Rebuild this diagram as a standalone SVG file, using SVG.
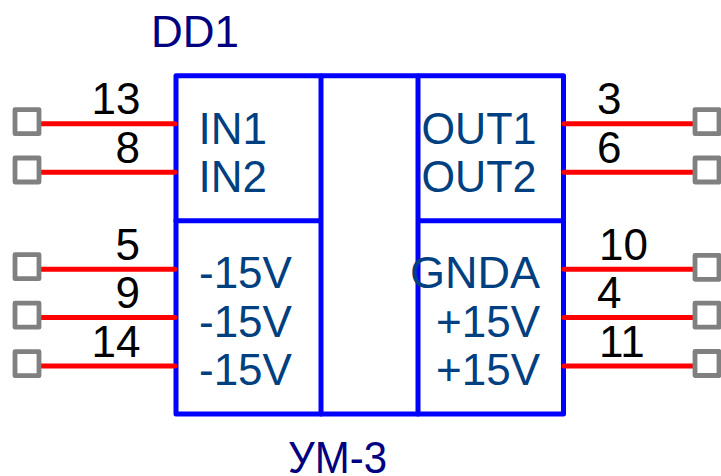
<svg xmlns="http://www.w3.org/2000/svg" width="721" height="476" viewBox="0 0 721 476">
<style>
.b{fill:none;stroke:#0000ff;stroke-width:5;stroke-linejoin:round;stroke-linecap:round}
.w{stroke:#ff0000;stroke-width:5;stroke-linecap:round}
.p{fill:#fff;stroke:#808080;stroke-width:4.800;stroke-linejoin:round}
text{font-family:"Liberation Sans",Arial,sans-serif;font-size:44px}
.k{fill:#000}
.n{fill:#004080}
.t{fill:#000080}
.e{text-anchor:end}
</style>
<rect width="721" height="476" fill="#fff"/>
<g id="body">
<rect class="b" x="176" y="75.800" width="387.500" height="338.200"/>
<path class="b" d="M321 76V414M418 76V414M176 220.700H321M418 220.700H563.500"/>
</g>
<g id="connectors">
<line class="w" x1="40" y1="123.700" x2="175" y2="123.700"/>
<line class="w" x1="40" y1="172.300" x2="175" y2="172.300"/>
<line class="w" x1="40" y1="269.300" x2="175" y2="269.300"/>
<line class="w" x1="40" y1="317.500" x2="175" y2="317.500"/>
<line class="w" x1="40" y1="366" x2="175" y2="366"/>
<line class="w" x1="564" y1="123.700" x2="694" y2="123.700"/>
<line class="w" x1="564" y1="172.300" x2="694" y2="172.300"/>
<line class="w" x1="564" y1="269.300" x2="694" y2="269.300"/>
<line class="w" x1="564" y1="317.500" x2="694" y2="317.500"/>
<line class="w" x1="564" y1="366" x2="694" y2="366"/>
</g>
<g id="pins-left">
<rect class="p" x="15" y="109.700" width="24" height="24"/>
<rect class="p" x="15" y="158" width="24" height="24"/>
<rect class="p" x="15" y="254.700" width="24" height="24"/>
<rect class="p" x="15" y="303.200" width="24" height="24"/>
<rect class="p" x="15" y="351.700" width="24" height="24"/>
</g>
<g id="pins-right">
<rect class="p" x="695" y="109.700" width="24" height="24"/>
<rect class="p" x="695" y="158" width="24" height="24"/>
<rect class="p" x="695" y="255.300" width="24" height="24"/>
<rect class="p" x="695" y="303.200" width="24" height="24"/>
<rect class="p" x="695" y="351.500" width="24" height="24"/>
</g>
<g id="labels">
<text class="t" x="151" y="46.500">DD1</text>
<text class="t" x="288" y="472.500" textLength="99" lengthAdjust="spacingAndGlyphs">УМ-3</text>
<text class="k e" x="140.500" y="114">13</text>
<text class="k e" x="140" y="162.500">8</text>
<text class="k e" x="140" y="259.500">5</text>
<text class="k e" x="140" y="308">9</text>
<text class="k e" x="140.500" y="356.500">14</text>
<text class="k" x="597" y="114">3</text>
<text class="k" x="597" y="162.500">6</text>
<text class="k" x="599" y="260">10</text>
<text class="k" x="597" y="308">4</text>
<text class="k" x="599" y="356.500">11</text>
<text class="n" x="198.500" y="143.500">IN1</text>
<text class="n" x="198.500" y="192">IN2</text>
<text class="n" x="199" y="288">-15V</text>
<text class="n" x="199" y="336.500">-15V</text>
<text class="n" x="199" y="385">-15V</text>
<text class="n" x="421.500" y="143.500" textLength="115" lengthAdjust="spacingAndGlyphs">OUT1</text>
<text class="n" x="421.500" y="192" textLength="115" lengthAdjust="spacingAndGlyphs">OUT2</text>
<text class="n" x="410" y="288" textLength="130" lengthAdjust="spacingAndGlyphs">GNDA</text>
<text class="n e" x="540" y="336.500">+15V</text>
<text class="n e" x="540" y="385">+15V</text>
</g>
</svg>
